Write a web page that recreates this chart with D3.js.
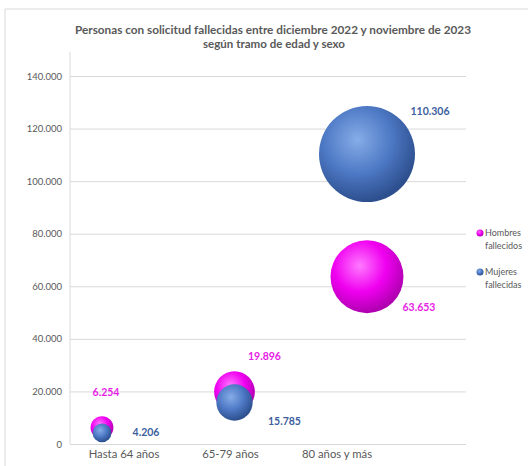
<!DOCTYPE html>
<html>
<head>
<meta charset="utf-8">
<script src="https://cdn.jsdelivr.net/npm/d3@7"></script>
<style>
  body { margin: 0; background: #fff; }
  text { font-family: Lato, "Open Sans", sans-serif; }
</style>
</head>
<body>
<script>
var w = 528, h = 466;

// data
var categories = ["Hasta 64 años", "65-79 años", "80 años y más"];
var hombres = [6254, 19896, 63653];
var mujeres = [4206, 15785, 110306];
var seriesNames = [["Hombres", "fallecidos"], ["Mujeres", "fallecidas"]];
var yTicks = [0, 20000, 40000, 60000, 80000, 100000, 120000, 140000];

var fmt = function (v) { return d3.format(",")(v).replace(/,/g, "."); };

var svg = d3.select("body").append("svg")
    .attr("width", w)
    .attr("height", h);

// gradients for the 3d balls
var defs = svg.append("defs");
function ball(id, light, mid, dark) {
    var g = defs.append("radialGradient").attr("id", id)
        .attr("cx", "40%").attr("cy", "35%").attr("r", "65%");
    g.append("stop").attr("offset", "0%").attr("stop-color", light);
    g.append("stop").attr("offset", "55%").attr("stop-color", mid);
    g.append("stop").attr("offset", "100%").attr("stop-color", dark);
}
ball("gMag", "#ff7aff", "#f000f0", "#b000b0");
ball("gBlue", "#86ade8", "#4d78c4", "#2d4f8e");

// frame
svg.append("line").attr("x1", 5).attr("x2", w).attr("y1", 9).attr("y2", 9)
    .attr("stroke", "#d9d9d9");
svg.append("line").attr("x1", 5).attr("x2", 5).attr("y1", 9).attr("y2", h)
    .attr("stroke", "#d9d9d9");

// title
svg.append("text").attr("x", 273).attr("y", 34).attr("text-anchor", "middle")
    .attr("font-size", 10.5).attr("font-weight", "bold").attr("fill", "#595959")
    .attr("textLength", 396).attr("lengthAdjust", "spacingAndGlyphs")
    .text("Personas con solicitud fallecidas entre diciembre 2022 y noviembre de 2023");
svg.append("text").attr("x", 274).attr("y", 48).attr("text-anchor", "middle")
    .attr("font-size", 10.5).attr("font-weight", "bold").attr("fill", "#595959")
    .attr("textLength", 142).attr("lengthAdjust", "spacingAndGlyphs")
    .text("según tramo de edad y sexo");

var y = d3.scaleLinear().domain([0, 140000]).range([444, 76]);
var xBall = d3.scalePoint().domain(categories).range([102, 367]);
var xLab = d3.scalePoint().domain(categories).range([124, 337]);
var r = d3.scaleSqrt().domain([0, 110306]).range([0, 48]);

// gridlines + y axis
var yAxis = d3.axisLeft(y).tickValues(yTicks).tickSize(-396).tickFormat(fmt);
var ga = svg.append("g").attr("transform", "translate(70,0)").call(yAxis);
ga.select(".domain").remove();
ga.selectAll(".tick line").attr("stroke", "#d9d9d9");
ga.selectAll(".tick text").attr("x", -8).attr("fill", "#595959")
    .attr("font-size", 9.5);
svg.append("line").attr("x1", 70).attr("x2", 70).attr("y1", 52).attr("y2", 444)
    .attr("stroke", "#d9d9d9");

// x labels
svg.selectAll(".xl").data(categories).enter().append("text")
    .attr("class", "xl")
    .attr("x", function (d) { return xLab(d); })
    .attr("y", 458)
    .attr("text-anchor", "middle")
    .attr("font-size", 11.3).attr("fill", "#595959")
    .text(function (d) { return d; });

// balls: hombres first, mujeres drawn on top
var series = [
    { vals: hombres, fill: "url(#gMag)", key: "h" },
    { vals: mujeres, fill: "url(#gBlue)", key: "m" }
];
series.forEach(function (s) {
    svg.selectAll(".b" + s.key).data(s.vals).enter().append("circle")
        .attr("class", "b" + s.key)
        .attr("cx", function (d, i) { return xBall(categories[i]); })
        .attr("cy", function (d) { return y(d); })
        .attr("r", function (d) { return r(d); })
        .attr("fill", s.fill);
});

// data labels
var hOff = [[4, -32], [30, -32], [52, 34]];
var mOff = [[44, 3], [50, 22], [63, -39]];
svg.selectAll(".lh").data(hombres).enter().append("text")
    .attr("x", function (d, i) { return xBall(categories[i]) + hOff[i][0]; })
    .attr("y", function (d, i) { return y(d) + hOff[i][1]; })
    .attr("text-anchor", "middle")
    .attr("font-size", 10.5).attr("font-weight", "bold").attr("fill", "#e61ee6")
    .text(fmt);
svg.selectAll(".lm").data(mujeres).enter().append("text")
    .attr("x", function (d, i) { return xBall(categories[i]) + mOff[i][0]; })
    .attr("y", function (d, i) { return y(d) + mOff[i][1]; })
    .attr("text-anchor", "middle")
    .attr("font-size", 10.5).attr("font-weight", "bold").attr("fill", "#3d5f9e")
    .text(fmt);

// legend
var legY = [233, 272];
var legFill = ["url(#gMag)", "url(#gBlue)"];
seriesNames.forEach(function (n, i) {
    svg.append("circle").attr("cx", 480).attr("cy", legY[i]).attr("r", 3.5)
        .attr("fill", legFill[i]);
    svg.append("text").attr("x", 485).attr("y", legY[i] + 3)
        .attr("font-size", 9).attr("fill", "#595959").text(n[0]);
    svg.append("text").attr("x", 485).attr("y", legY[i] + 16)
        .attr("font-size", 9).attr("fill", "#595959").text(n[1]);
});
</script>
</body>
</html>
